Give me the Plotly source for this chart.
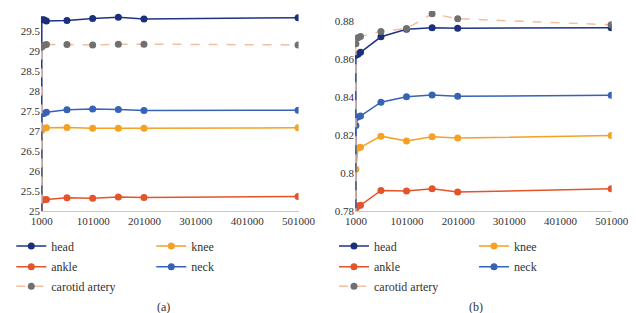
import plotly.graph_objects as go

# ---------------- data ----------------
x_points = [1000, 5000, 10000, 50000, 100000, 150000, 200000, 500000]
start_x = 1000
start_value = 0

# (a)
a_head = [29.78, 29.78, 29.75, 29.76, 29.81, 29.84, 29.80, 29.83]
a_knee = [27.02, 27.07, 27.08, 27.09, 27.07, 27.07, 27.07, 27.08]
a_ankle = [25.27, 25.28, 25.29, 25.33, 25.32, 25.35, 25.34, 25.36]
a_neck = [27.43, 27.44, 27.47, 27.53, 27.55, 27.54, 27.51, 27.52]
a_carotid = [29.10, 29.14, 29.16, 29.16, 29.15, 29.17, 29.17, 29.15]

# (b)
b_head = [0.8620, 0.8625, 0.8635, 0.8717, 0.8757, 0.8765, 0.8762, 0.8765]
b_knee = [0.8020, 0.8132, 0.8135, 0.8194, 0.8168, 0.8191, 0.8184, 0.8198]
b_ankle = [0.7815, 0.7827, 0.7830, 0.7908, 0.7905, 0.7917, 0.7900, 0.7917]
b_neck = [0.8250, 0.8295, 0.8300, 0.8373, 0.8402, 0.8411, 0.8404, 0.8409]
b_carotid = [0.8680, 0.8712, 0.8718, 0.8745, 0.8760, 0.8838, 0.8812, 0.8780]

series_names = ["head", "knee", "ankle", "neck", "carotid artery"]
x_ticks = [1000, 101000, 201000, 301000, 401000, 501000]
a_yticks = [25, 25.5, 26, 26.5, 27, 27.5, 28, 28.5, 29, 29.5, 30]
b_yticks = [0.78, 0.80, 0.82, 0.84, 0.86, 0.88]

# ---------------- styles ----------------
line_colors = {"head": "#1f3480", "knee": "#f5a124", "ankle": "#e4532a",
               "neck": "#3563b6", "carotid artery": "#f3bda0"}
marker_colors = {"head": "#1b2f7a", "knee": "#f5a124", "ankle": "#e4532a",
                 "neck": "#3563b6", "carotid artery": "#707070"}
FONT = "Liberation Serif, Times New Roman, serif"
W, H = 636, 313

fig = go.Figure()

left_legends = {"head": "legend", "knee": "legend", "ankle": "legend2",
                "neck": "legend2", "carotid artery": "legend3"}
right_legends = {"head": "legend4", "knee": "legend4", "ankle": "legend5",
                 "neck": "legend5", "carotid artery": "legend6"}

for data, xa, ya, legmap in [
    ((a_head, a_knee, a_ankle, a_neck, a_carotid), "x", "y", left_legends),
    ((b_head, b_knee, b_ankle, b_neck, b_carotid), "x2", "y2", right_legends),
]:
    for name, vals in zip(series_names, data):
        fig.add_trace(go.Scatter(
            x=[start_x] + x_points, y=[start_value] + vals,
            mode="lines+markers", name=name,
            xaxis=xa, yaxis=ya, legend=legmap[name],
            line=dict(color=line_colors[name], width=1.5, shape="linear",
                      dash="dash" if name == "carotid artery" else "solid"),
            marker=dict(color=marker_colors[name], size=7),
            cliponaxis=True,
        ))

def px_x(p):
    return p / W

def px_y(p):
    return 1 - p / H

axis_font = dict(family=FONT, size=11, color="#333333")
common_x = dict(range=[-600, 501000], tickvals=x_ticks, ticktext=[str(v) for v in x_ticks],
                showgrid=False, zeroline=False, showline=True, linecolor="#c8c8c8",
                linewidth=1, ticks="", ticklen=0, tickfont=axis_font)
common_y = dict(showgrid=False, zeroline=False, showline=False, ticks="", ticklen=0,
                tickfont=axis_font)

fig.update_layout(
    width=W, height=H,
    margin=dict(l=0, r=0, t=0, b=0),
    paper_bgcolor="white", plot_bgcolor="white",
    xaxis=dict(domain=[px_x(24), px_x(293)], anchor="y", **common_x),
    xaxis2=dict(domain=[px_x(352), px_x(620)], anchor="y2", **common_x),
    yaxis=dict(domain=[px_y(207), px_y(3)], anchor="x", range=[25, 30],
               tickvals=a_yticks, ticktext=[f"{v:g}" for v in a_yticks], **common_y),
    yaxis2=dict(domain=[px_y(207), px_y(3)], anchor="x2", range=[0.78, 0.8853],
                tickvals=b_yticks, ticktext=[f"{v:g}" for v in b_yticks], **common_y),
    font=dict(family=FONT, size=12, color="#333333"),
)

leg_common = dict(orientation="h", xanchor="left", yanchor="middle",
                  bgcolor="rgba(0,0,0,0)", borderwidth=0,
                  font=dict(family=FONT, size=12, color="#333333"),
                  entrywidth=95, entrywidthmode="pixels", itemwidth=30)
rows_y = [242.7, 263.7, 283.7]
left_x = -7
right_x = 330
fig.update_layout(
    legend=dict(x=px_x(left_x), y=px_y(rows_y[0]), **leg_common),
    legend2=dict(x=px_x(left_x), y=px_y(rows_y[1]), **leg_common),
    legend3=dict(x=px_x(left_x), y=px_y(rows_y[2]), **leg_common),
    legend4=dict(x=px_x(right_x), y=px_y(rows_y[0]), **leg_common),
    legend5=dict(x=px_x(right_x), y=px_y(rows_y[1]), **leg_common),
    legend6=dict(x=px_x(right_x), y=px_y(rows_y[2]), **leg_common),
)

for label, cx in [("(a)", 152), ("(b)", 478)]:
    fig.add_annotation(text=label, x=px_x(cx), y=px_y(305), xref="paper", yref="paper",
                       showarrow=False, xanchor="center", yanchor="middle",
                       font=dict(family=FONT, size=12, color="#333333"))

fig.write_html("out.html")
